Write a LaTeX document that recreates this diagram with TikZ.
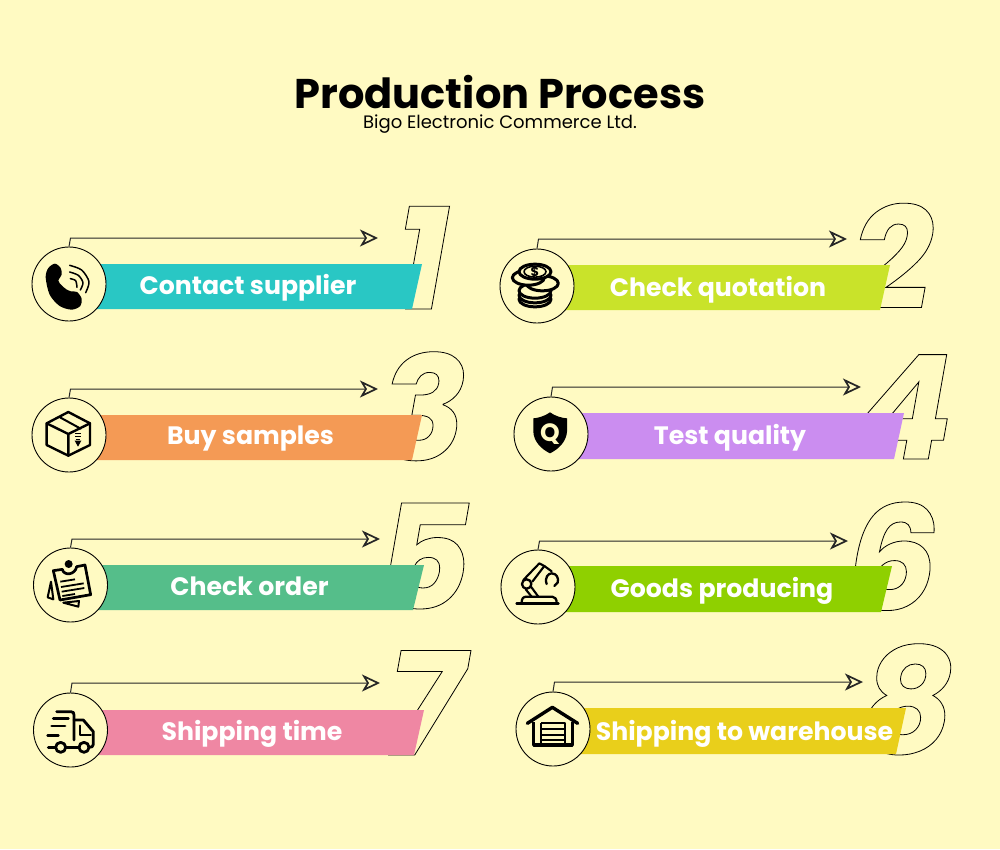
\documentclass[tikz,border=0pt]{standalone}
\usepackage{fontspec}
\usetikzlibrary{arrows.meta}
\setmainfont{Poppins}
\newfontfamily\boldf{Poppins Bold}
\newfontfamily\numf{Poppins Bold Italic}
\definecolor{bgc}{HTML}{FFFAC2}
\definecolor{c1}{HTML}{29C7C4}
\definecolor{c2}{HTML}{C9E32A}
\definecolor{c3}{HTML}{F49A55}
\definecolor{c4}{HTML}{CB8DF0}
\definecolor{c5}{HTML}{55BE8A}
\definecolor{c6}{HTML}{8FD000}
\definecolor{c7}{HTML}{EF87A3}
\definecolor{c8}{HTML}{E9CF1B}
\newcommand{\outl}[1]{\special{pdf:code 1 Tr 0.8 w}#1\special{pdf:code 0 Tr}}
\tikzset{
  ring/.style={circle,draw=black,fill=bgc,line width=.9pt,minimum size=74pt,inner sep=0pt},
  barlabel/.style={text=white,font=\boldf\fontsize{25.2}{25.2}\selectfont,anchor=center,inner sep=0pt},
  numeral/.style={font=\numf\fontsize{145}{145}\selectfont,anchor=base,inner sep=0pt,text=black},
  conn/.style={draw=black!85,line width=1pt,-{Stealth[open,fill=bgc,length=18pt,width=17pt,inset=5pt,line width=1.7pt]}},
  ico/.style={line width=#1,draw=black,line cap=round,line join=round},
  ico/.default=2pt,
  iconscope/.style={x=.33333pt,y=-.33333pt}
}
\begin{document}
\begin{tikzpicture}[x=1pt,y=-1pt]
\useasboundingbox (0,0) rectangle (1000,849);
\fill[bgc] (0,0) rectangle (1000,849);
\node[inner sep=0pt,font=\boldf\fontsize{41.5}{41.5}\selectfont] (title) at (500,92) {Production Process};
\node[inner sep=0pt,font=\fontsize{18}{18}\selectfont] (sub) at (500,124) {Bigo Electronic Commerce Ltd.};
% id/cx/cy/arrowy/tipx/ytop/ybot/xtop/xbot/textx/texty/numx/numy/label
\foreach \id/\cx/\cy/\ay/\tip/\yt/\yb/\xt/\xb/\tx/\ty/\nx/\ny/\lab in {
 1/69/284/238/378/264/309/422/412/248/288/422/309/Contact supplier,
 2/537/286/239/847/265/310/890/880/718/290/891.5/309/Check quotation,
 3/69/435/389/378/415/460/422/412/250.5/439/422.5/460/Buy samples,
 4/551/434/387/861/413/459/904/894/730/438/904/459/Test quality,
 5/70.5/585/539/380/565/610/424/413/249.5/586/424/609/Check order,
 6/538/587/541/848/566/612/892/881/722/591/892/610/Goods producing,
 7/70.5/730/683/380/710/755/424/414/252/734/424.5/755/Shipping time,
 8/553/729/682/863/708/754/906/896/744.5/734/907/753/Shipping to warehouse}{
  \node[numeral] (n\id) at (\nx,\ny) {\outl{\id}};
  \fill[c\id] (\cx,\yt) -- (\xt,\yt) -- (\xb,\yb) -- (\cx,\yb) -- cycle;
  \node[barlabel] (t\id) at (\tx,\ty) {\lab};
  \node[ring] (r\id) at (\cx,\cy) {};
  \coordinate (k\id) at ({\cx+1.5},\ay);
  \coordinate (e\id) at (\tip,\ay);
  \draw[conn] (r\id.north) -- (k\id) -- (e\id);
}
% phone
\begin{scope}[shift={(25,240)},iconscope]
\fill[black] plot[smooth cycle,tension=.5] coordinates {(62,112)(70,84)(90,71)(107,84)(110,104)(100,122)(110,136)(124,148)(138,154)(156,156)(170,176)(166,198)(140,209)(104,198)(74,164)};
\draw[ico=1.5pt] plot[smooth] coordinates {(134,76)(170,90)(192,125)(182,158)};
\draw[ico=1.5pt] plot[smooth] coordinates {(134,96)(160,106)(174,128)(166,150)};
\draw[ico=1.5pt] plot[smooth] coordinates {(136,116)(152,122)(156,142)};
\end{scope}
% coins
\begin{scope}[shift={(495,240)},iconscope]
\foreach \p in {(120,178),(120,166),(120,152),(142,130),(100,113),(120,95)}{
  \draw[ico=3pt,fill=bgc] \p ellipse [x radius=16pt,y radius=7.5pt];
}
\draw[ico=1.6pt] (120,95) ellipse [x radius=11pt,y radius=5.5pt];
\node[inner sep=0pt,font=\boldf\fontsize{13}{13}\selectfont] (dollar) at (120,96) {\$};
\end{scope}
% box
\begin{scope}[shift={(25,390)},iconscope]
\draw[ico=2.4pt] (130,66) -- (195,100) -- (195,165) -- (130,197) -- (65,165) -- (65,100) -- cycle;
\draw[ico=2.4pt] (65,100) -- (130,132) -- (195,100) (130,132) -- (130,197);
\draw[ico=2pt] (105,82) -- (167,116);
\draw[ico=1.5pt,line cap=butt] (150,130) -- (168,130) (151,139) -- (167,139) (152,148) -- (166,148);
\fill[black] (149,152) -- (169,152) -- (159,170) -- cycle;
\end{scope}
% shield
\begin{scope}[shift={(505,390)},iconscope]
\fill[black] (135,67) .. controls (150,78) and (170,84) .. (186,85) -- (186,125) .. controls (184,155) and (160,178) .. (135,190) .. controls (110,178) and (86,155) .. (85,125) -- (85,85) .. controls (100,84) and (120,78) .. (135,67) -- cycle;
\node[inner sep=0pt,text=bgc,font=\boldf\fontsize{25}{25}\selectfont] (qmark) at (135,131) {Q};
\end{scope}
% clipboard
\begin{scope}[shift={(25,540)},iconscope]
\draw[ico=2.7pt] (112,88) -- (85,92) -- (105,180) -- (197,164) -- (180,75) -- (155,80);
\draw[ico=2.7pt] (112,88) .. controls (116,108) and (150,106) .. (155,80);
\fill[black] (131,72) circle (4pt);
\draw[ico=1.8pt,line cap=butt] (106,125) -- (150,118) (108,141) -- (176,130) (110,155) -- (178,144) (112,168) -- (150,162);
\draw[ico=2pt] (78,125) -- (68,172) -- (85,178) -- cycle;
\draw[ico=2pt] (115,188) -- (162,183) -- (160,200) -- cycle;
\end{scope}
% robot
\begin{scope}[shift={(495,540)},iconscope]
\draw[ico=2.8pt] (65,190) -- (190,190);
\draw[ico=2.3pt] (80,188) .. controls (80,175) and (85,170) .. (95,170) -- (172,170) .. controls (180,170) and (185,178) .. (185,188);
\draw[ico=2.3pt] (95,132) circle (4.7pt);
\draw[ico=2.1pt] (85,120) -- (133,70) -- (148,78) -- (112,125);
\draw[ico=2.1pt] (148,78) -- (170,94);
\draw[ico=2.1pt] (92,148) -- (110,170) (108,140) -- (130,170);
\draw[ico=2.3pt] (155,132) .. controls (148,112) and (160,100) .. (170,100) .. controls (185,100) and (192,115) .. (188,128) -- (178,138);
\end{scope}
% truck
\begin{scope}[shift={(25,685)},iconscope]
\draw[ico=2.8pt] (95,80) -- (138,80) .. controls (145,80) and (147,84) .. (147,90) -- (147,165);
\draw[ico=2.8pt] (85,101) -- (130,101) (80,123) -- (120,123) (68,152) -- (100,152) (70,187) -- (92,187) (122,187) -- (162,187);
\draw[ico=2.8pt] (147,105) -- (175,105) -- (205,140) -- (205,178) .. controls (205,185) and (200,187) .. (192,187);
\draw[ico=2.4pt] (165,122) -- (165,150) -- (197,150);
\draw[ico=2.8pt] (107,187) circle (5pt) (177,187) circle (5pt);
\end{scope}
% garage
\begin{scope}[shift={(510,685)},iconscope]
\draw[ico=3.4pt] (52,115) -- (127,67) -- (203,115);
\draw[ico=3.2pt,line cap=butt] (71,112) -- (71,180) -- (187,180) -- (187,112);
\draw[ico=2.4pt,line cap=butt] (93,114) -- (165,114) -- (165,178) (93,114) -- (93,178);
\draw[ico=2.2pt,line cap=butt] (93,133) -- (165,133) (93,150) -- (165,150) (93,166) -- (165,166);
\end{scope}
\end{tikzpicture}
\end{document}
